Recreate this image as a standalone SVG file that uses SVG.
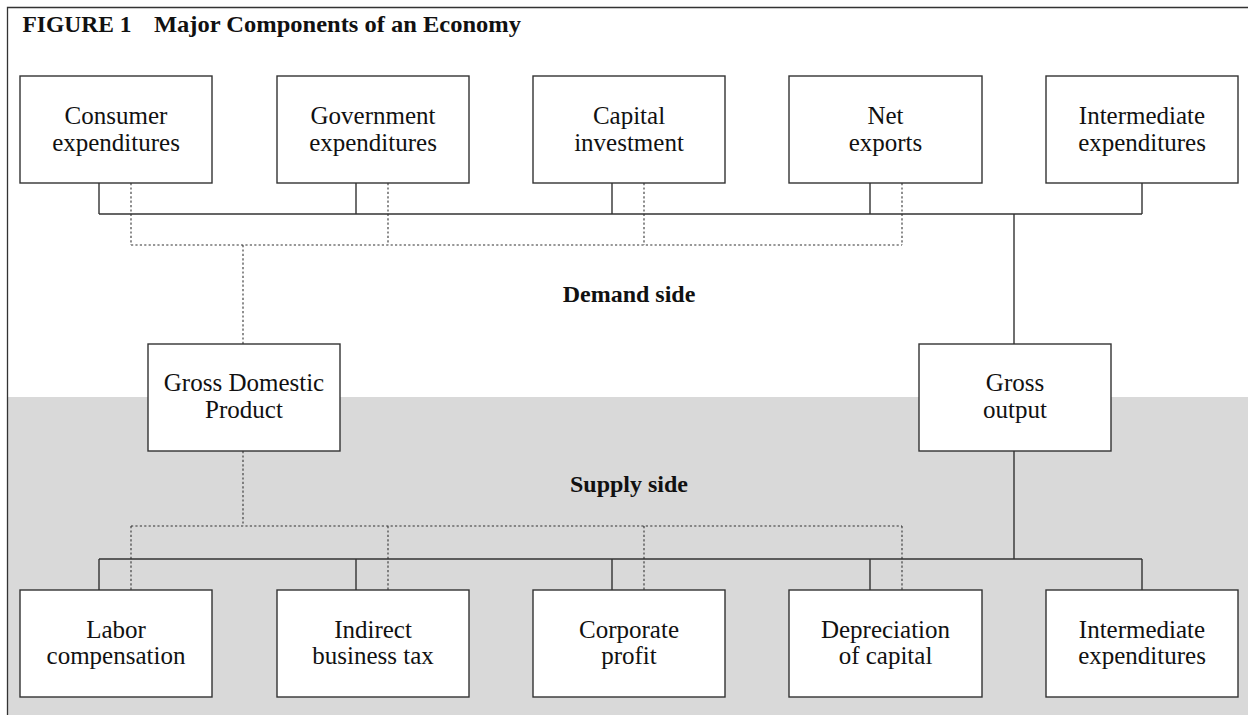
<svg xmlns="http://www.w3.org/2000/svg" width="1248" height="715" viewBox="0 0 1248 715">
<defs>
<style>
.box{fill:#fff;stroke:#333;stroke-width:1.4}
.lbl{font-family:"Liberation Serif","Times New Roman",serif;font-size:25px;fill:#111;text-anchor:middle}
.side{font-family:"Liberation Serif","Times New Roman",serif;font-size:24px;font-weight:bold;fill:#111;text-anchor:middle}
.title{font-family:"Liberation Serif","Times New Roman",serif;font-size:23px;font-weight:bold;fill:#111}
.solid{fill:none;stroke:#333;stroke-width:1.4}
.dot{fill:none;stroke:#333;stroke-width:1.1;stroke-dasharray:2.2 2.2}
</style>
</defs>
<rect x="0" y="0" width="1248" height="715" fill="#fff"/>
<rect x="8" y="397" width="1240" height="318" fill="#d9d9d9"/>
<path d="M7.5 715 V7.5 H1248" fill="none" stroke="#333" stroke-width="1.3"/>
<g id="title">
<text class="title" x="22.5" y="32" textLength="109" lengthAdjust="spacingAndGlyphs">FIGURE 1</text>
<text class="title" x="154" y="32" textLength="367" lengthAdjust="spacingAndGlyphs">Major Components of an Economy</text>
</g>
<g id="connectors">
<path class="solid" d="M99 183 V214 M356 183 V214 M612 183 V214 M870 183 V214 M1142 183 V214 M99 214 H1142 M1014 214 V344"/>
<path class="dot" d="M131 183 V245 M388 183 V245 M644 183 V245 M902 183 V245 M131 245 H902 M243 245 V344"/>
<path class="solid" d="M1014 451 V559 M99 559 H1142 M99 559 V590 M356 559 V590 M612 559 V590 M870 559 V590 M1142 559 V590"/>
<path class="dot" d="M243 451 V526 M131 526 H902 M131 526 V590 M388 526 V590 M644 526 V590 M902 526 V590"/>
</g>
<g id="demand-label"><text class="side" x="629" y="302">Demand side</text></g>
<g id="supply-label"><text class="side" x="629" y="492">Supply side</text></g>
<g id="consumer"><rect class="box" x="20" y="76" width="192" height="107"/><text class="lbl" x="116" y="124">Consumer</text><text class="lbl" x="116" y="151">expenditures</text></g>
<g id="government"><rect class="box" x="277" y="76" width="192" height="107"/><text class="lbl" x="373" y="124">Government</text><text class="lbl" x="373" y="151">expenditures</text></g>
<g id="capital"><rect class="box" x="533" y="76" width="192" height="107"/><text class="lbl" x="629" y="124">Capital</text><text class="lbl" x="629" y="151">investment</text></g>
<g id="netexports"><rect class="box" x="789" y="76" width="193" height="107"/><text class="lbl" x="885.5" y="124">Net</text><text class="lbl" x="885.5" y="151">exports</text></g>
<g id="intermediate-top"><rect class="box" x="1046" y="76" width="192" height="107"/><text class="lbl" x="1142" y="124">Intermediate</text><text class="lbl" x="1142" y="151">expenditures</text></g>
<g id="gdp"><rect class="box" x="148" y="344" width="192" height="107"/><text class="lbl" x="244" y="391">Gross Domestic</text><text class="lbl" x="244" y="418">Product</text></g>
<g id="grossoutput"><rect class="box" x="919" y="344" width="192" height="107"/><text class="lbl" x="1015" y="391">Gross</text><text class="lbl" x="1015" y="418">output</text></g>
<g id="labor"><rect class="box" x="20" y="590" width="192" height="107"/><text class="lbl" x="116" y="638">Labor</text><text class="lbl" x="116" y="664">compensation</text></g>
<g id="indirect"><rect class="box" x="277" y="590" width="192" height="107"/><text class="lbl" x="373" y="638">Indirect</text><text class="lbl" x="373" y="664">business tax</text></g>
<g id="corporate"><rect class="box" x="533" y="590" width="192" height="107"/><text class="lbl" x="629" y="638">Corporate</text><text class="lbl" x="629" y="664">profit</text></g>
<g id="depreciation"><rect class="box" x="789" y="590" width="193" height="107"/><text class="lbl" x="885.5" y="638">Depreciation</text><text class="lbl" x="885.5" y="664">of capital</text></g>
<g id="intermediate-bottom"><rect class="box" x="1046" y="590" width="192" height="107"/><text class="lbl" x="1142" y="638">Intermediate</text><text class="lbl" x="1142" y="664">expenditures</text></g>
</svg>
